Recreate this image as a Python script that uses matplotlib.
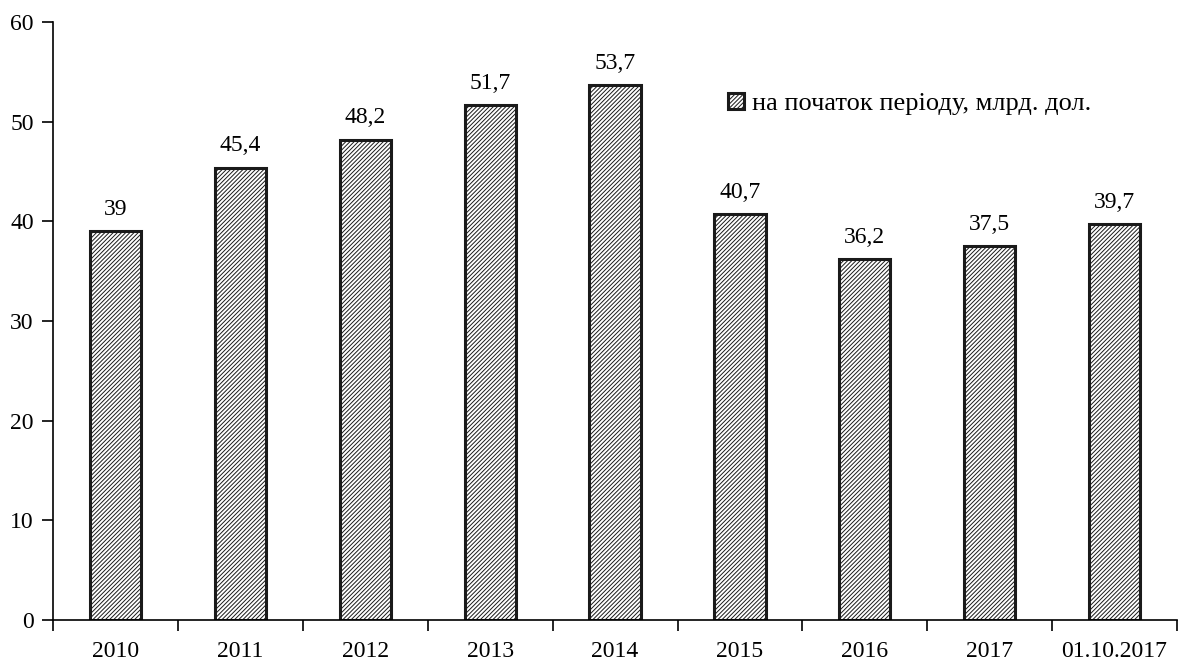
import numpy as np
import matplotlib.pyplot as plt
from matplotlib.ticker import FixedLocator

plt.rcParams['font.family'] = ['Liberation Serif', 'DejaVu Serif']
plt.rcParams['hatch.linewidth'] = 0.7
plt.rcParams['hatch.color'] = '#555555'

# data
categories = ['2010', '2011', '2012', '2013', '2014', '2015', '2016', '2017', '01.10.2017']
values = [39, 45.4, 48.2, 51.7, 53.7, 40.7, 36.2, 37.5, 39.7]
series_label = 'на початок періоду, млрд. дол.'

fig = plt.figure(figsize=(11.81, 6.66), dpi=100)
ax = fig.add_axes([0.045, 0.069, 0.9516, 0.898])

x = np.arange(len(categories))
bars = ax.bar(x, values, width=0.41, color='white', edgecolor='#1a1a1a',
              linewidth=2.2, hatch='////////', label=series_label)

for xi, v in zip(x, values):
    txt = f'{v:g}'.replace('.', ',')
    ax.annotate(txt, (xi, v), xytext=(0, 8), textcoords='offset points',
                ha='center', va='bottom', fontsize=17)

ax.set_xlim(-0.5, len(categories) - 0.5)
ax.set_ylim(0, 60)
ax.set_yticks(np.arange(0, 61, 10))

# ticks between categories, labels at centres
ax.xaxis.set_major_locator(FixedLocator(np.arange(-0.5, len(categories), 1.0)))
ax.xaxis.set_minor_locator(FixedLocator(x))
ax.set_xticklabels([], minor=False)
ax.set_xticklabels(categories, minor=True)
ax.tick_params(axis='x', which='major', direction='out', length=8, width=1.2)
ax.tick_params(axis='x', which='minor', length=0, pad=15, labelsize=17)
ax.tick_params(axis='y', direction='out', length=8, width=1.2, pad=6, labelsize=17)

for s in ['top', 'right']:
    ax.spines[s].set_visible(False)
for s in ['left', 'bottom']:
    ax.spines[s].set_linewidth(1.2)

ax.legend(loc='center left', bbox_to_anchor=(0.591, 0.863), frameon=False,
          fontsize=19, handlelength=0.6, handleheight=0.6, handletextpad=0.3,
          borderaxespad=0)

fig.savefig('out.png', dpi=100)
